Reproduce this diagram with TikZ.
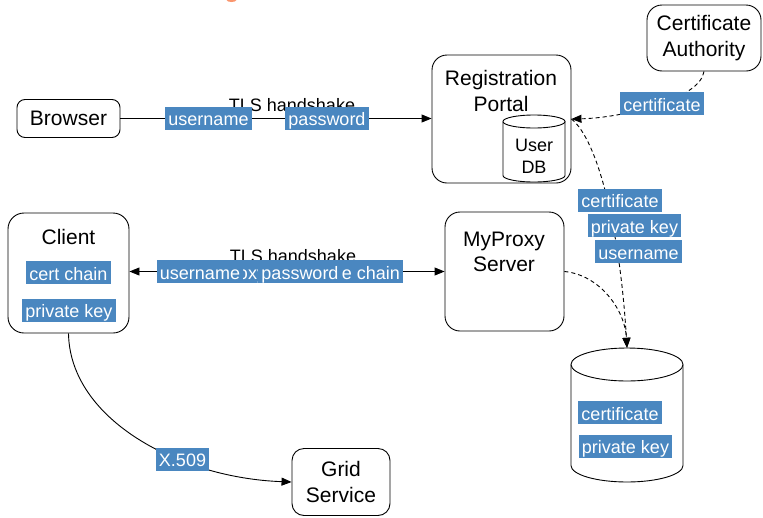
\documentclass[tikz,border=0pt]{standalone}
\usepackage{fontspec}
\setmainfont{Liberation Sans}
\usetikzlibrary{arrows.meta}
\definecolor{lblue}{RGB}{74,135,192}
\definecolor{smudge}{RGB}{250,150,110}
\begin{document}
\begin{tikzpicture}[x=1pt,y=-1pt,
  rbox/.style={draw=black, line width=0.9pt, fill=white, align=center, inner sep=0pt,
               font=\fontsize{21}{25.5}\selectfont},
  ntext/.style={align=center, inner sep=0pt, font=\fontsize{21}{25.5}\selectfont},
  lbl/.style={fill=lblue, text=white, font=\fontsize{18}{20}\selectfont,
              inner xsep=3pt, inner ysep=2pt, text height=17pt, text depth=2pt},
  hs/.style={font=\fontsize{18}{20}\selectfont, anchor=base, inner sep=0pt},
  conn/.style={line width=0.9pt, -{Triangle[length=10pt,width=8pt]}},
  dconn/.style={conn, dash pattern=on 4pt off 3pt},
  cyl/.style={draw=black, line width=0.9pt, fill=white}]
\useasboundingbox (0,0) rectangle (763,517);

% small orange mark at top
\fill[smudge] (231.5,0) ellipse [x radius=5, y radius=2];

% ---- nodes ----
\node[rbox, rounded corners=8pt, minimum width=103pt, minimum height=38pt] (browser) at (68.5,118.5) {Browser};

\node[rbox, rounded corners=15pt, minimum width=139pt, minimum height=128pt] (portal) at (501.5,119) {};
\node[ntext] (portaltxt) at (501,91) {Registration\\Portal};

% User DB cylinder
\draw[cyl] (503,121.5) -- (503,175.5) arc[start angle=180, end angle=0, x radius=31, y radius=6.5] -- (565,121.5);
\draw[cyl] (534,121.5) ellipse [x radius=31, y radius=6.5];
\node[align=center, inner sep=0pt, font=\fontsize{18}{22}\selectfont] (udb) at (534,156) {User\\DB};

\node[rbox, rounded corners=15pt, minimum width=114pt, minimum height=66pt] (ca) at (704,38) {Certificate\\Authority};

\node[rbox, rounded corners=16pt, minimum width=121pt, minimum height=120pt] (client) at (68.5,273) {};
\node[ntext] (clienttxt) at (68.5,237) {Client};
\node[lbl] (cchain) at (68.5,272.5) {cert chain};
\node[lbl] (cpkey) at (69,310) {private key};

\node[rbox, rounded corners=15pt, minimum width=119pt, minimum height=119pt] (myproxy) at (504.5,271.5) {};
\node[ntext] (myproxytxt) at (504,252) {MyProxy\\Server};

\node[rbox, rounded corners=12pt, minimum width=98pt, minimum height=67pt] (grid) at (341,482) {Grid\\Service};

% credential store cylinder
\node[minimum width=112pt, minimum height=134pt, inner sep=0pt] (store) at (627,415) {};
\draw[cyl] (571,364.5) -- (571,465.5) arc[start angle=180, end angle=0, x radius=56, y radius=16.5] -- (683,364.5);
\draw[cyl] (627,364.5) ellipse [x radius=56, y radius=16.5];
\node[lbl] (scert) at (620,412.5) {certificate};
\node[lbl] (spkey) at (625.5,446) {private key};

% ---- connectors ----
\draw[conn] (browser.east) -- (browser.east -| portal.west);
\node[hs] (tls1) at (292,111) {TLS handshake};
\node[lbl] (l1user) at (208.5,118) {username};
\node[lbl] (l1pass) at (327,118) {password};

\draw[conn, {Triangle[length=10pt,width=8pt]}-{Triangle[length=10pt,width=8pt]}]
  (myproxy.west -| client.east) -- (myproxy.west);
\node[hs] (tls2) at (293,262) {TLS handshake};
\node[lbl] (l2proxy) at (244,271.5) {proxy};
\node[lbl] (l2chain) at (337.5,271.5) {certificate chain};
\node[lbl] (l2user) at (200,271.5) {username};
\node[lbl] (l2pass) at (300,271.5) {password};

\draw[dconn] (ca.south) .. controls (700,100) and (620,118) .. (portal.east);
\node[lbl] (cacert) at (662,103.5) {certificate};

\draw[dconn] (portal.east) .. controls (598,140) and (620,230) .. (store.north);
\node[lbl] (pcert) at (620,200) {certificate};
\node[lbl] (ppkey) at (634.5,225.5) {private key};
\node[lbl] (puser) at (638.5,251.5) {username};

\draw[dconn] (myproxy.east) .. controls (600,275) and (625,310) .. (store.north);

\draw[conn] (client.south) .. controls (70,420) and (180,478) .. (grid.west);
\node[lbl] (x509) at (182.5,459) {X.509};
\end{tikzpicture}
\end{document}
